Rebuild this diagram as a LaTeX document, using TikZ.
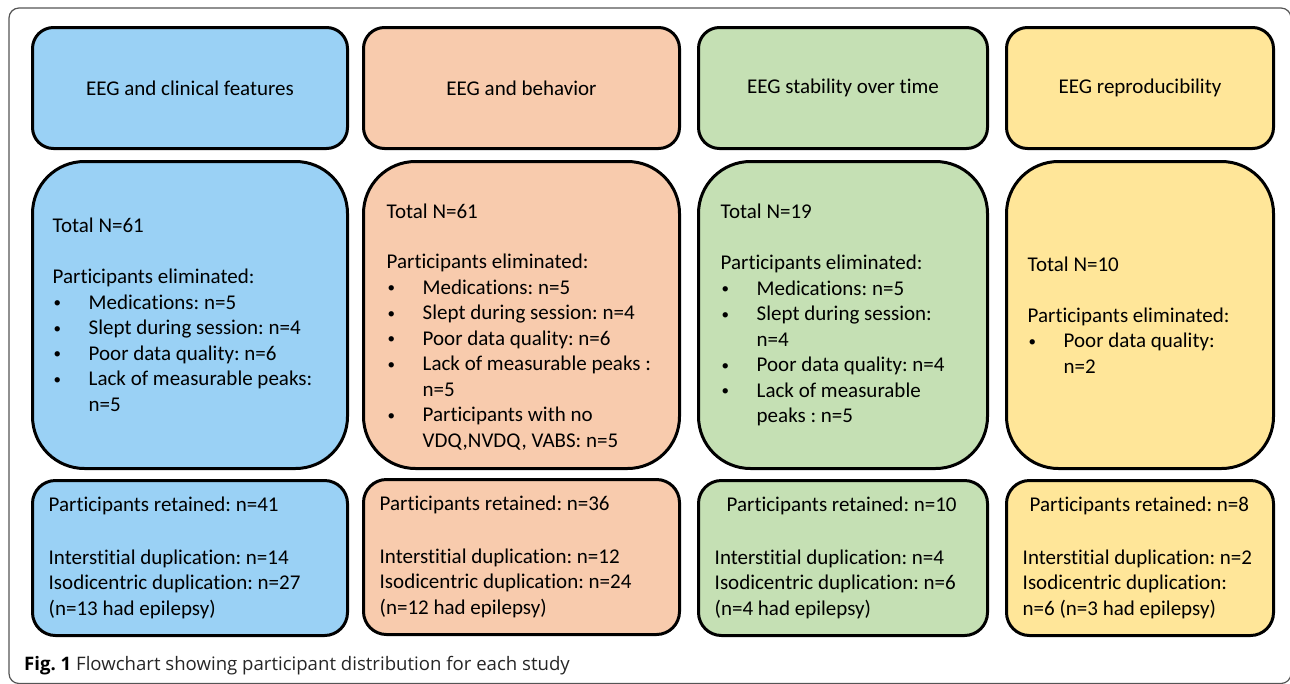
\documentclass[tikz,border=0pt]{standalone}
\usepackage{fontspec}
\setmainfont{Carlito}[Ligatures=NoCommon]
\newfontfamily\captfont{Open Sans}
\frenchspacing
\usetikzlibrary{positioning}
\definecolor{boxblue}{HTML}{9AD1F5}
\definecolor{boxpeach}{HTML}{F8CBAD}
\definecolor{boxgreen}{HTML}{C5E0B4}
\definecolor{boxgold}{HTML}{FFE699}
\definecolor{framegray}{HTML}{555555}
\newcommand{\itm}[1]{\makebox[36pt][l]{\hspace*{1pt}\raisebox{1.5pt}{\fontsize{15}{15}\selectfont\textbullet}}#1}
\newcommand{\cnt}[1]{\hspace*{36pt}#1}

\begin{document}
\begin{tikzpicture}[x=1pt, y=-1pt,
    box/.style={draw, line width=3pt, inner sep=0pt, font=\fontsize{21}{25.5}\selectfont},
    head/.style={box, rounded corners=21pt, minimum height=121pt},
    mid/.style={box, rounded corners=52pt, minimum height=307pt},
    foot/.style={box, rounded corners=23pt, minimum height=155pt},
    txt/.style={align=left, inner sep=0pt, font=\fontsize{21}{25.5}\selectfont}]

    \useasboundingbox (0,0) rectangle (1290,683);
    \draw[framegray, line width=1.2pt, rounded corners=10pt] (9,8) rectangle (1291,683.5);

    \node[head, fill=boxblue,  minimum width=315pt] (head1) at (190,88)   {EEG and clinical features};
    \node[head, fill=boxpeach, minimum width=316pt] (head2) at (521.5,88) {EEG and behavior};
    \node[head, fill=boxgreen, minimum width=289pt] (head3) at (843,88)   {EEG stability over time};
    \node[head, fill=boxgold,  minimum width=267pt] (head4) at (1140,88)  {EEG reproducibility};

    \node[mid, fill=boxblue,  minimum width=315pt] (mid1) at (190,315)   {};
    \node[mid, fill=boxpeach, minimum width=316pt] (mid2) at (521.5,315) {};
    \node[mid, fill=boxgreen, minimum width=289pt] (mid3) at (843,315)   {};
    \node[mid, fill=boxgold,  minimum width=267pt] (mid4) at (1140,315)  {};

    \node[foot, fill=boxblue,  minimum width=315pt] (foot1) at (190,558)   {};
    \node[foot, fill=boxpeach, minimum width=316pt] (foot2) at (521.5,557) {};
    \node[foot, fill=boxgreen, minimum width=289pt] (foot3) at (843,558)   {};
    \node[foot, fill=boxgold,  minimum width=267pt] (foot4) at (1140,558)  {};

    \node[txt, right=21.5pt of mid1.west] (elim1) {Total N=61\\[25.5pt]
        Participants eliminated:\\
        \itm{Medications: n=5}\\
        \itm{Slept during session: n=4}\\
        \itm{Poor data quality: n=6}\\
        \itm{Lack of measurable peaks:}\\
        \cnt{n=5}};
    \node[txt, right=24.5pt of mid2.west, yshift=-12pt] (elim2) {Total N=61\\[25pt]
        Participants eliminated:\\
        \itm{Medications: n=5}\\
        \itm{Slept during session: n=4}\\
        \itm{Poor data quality: n=6}\\
        \itm{Lack of measurable peaks :}\\
        \cnt{n=5}\\
        \itm{Participants with no}\\
        \cnt{VDQ,NVDQ, VABS: n=5}};
    \node[txt, right=23.5pt of mid3.west] (elim3) {Total N=19\\[25.5pt]
        Participants eliminated:\\
        \itm{Medications: n=5}\\
        \itm{Slept during session:}\\
        \cnt{n=4}\\
        \itm{Poor data quality: n=4}\\
        \itm{Lack of measurable}\\
        \cnt{peaks : n=5}};
    \node[txt, right=22.5pt of mid4.west] (elim4) {Total N=10\\[25pt]
        Participants eliminated:\\
        \itm{Poor data quality:}\\
        \cnt{n=2}};

    \node[txt, right=17.5pt of foot1.west] (kept1) {Participants retained: n=41\\[27pt]
        Interstitial duplication: n=14\\
        Isodicentric duplication: n=27\\
        (n=13 had epilepsy)};
    \node[txt, right=17.5pt of foot2.west] (kept2) {Participants retained: n=36\\[27pt]
        Interstitial duplication: n=12\\
        Isodicentric duplication: n=24\\
        (n=12 had epilepsy)};
    \node[txt, right=17.5pt of foot3.west] (kept3) {\hspace*{12pt}Participants retained: n=10\\[27pt]
        Interstitial duplication: n=4\\
        Isodicentric duplication: n=6\\
        (n=4 had epilepsy)};
    \node[txt, right=17.5pt of foot4.west] (kept4) {\hspace*{7pt}Participants retained: n=8\\[27pt]
        Interstitial duplication: n=2\\
        Isodicentric duplication:\\
        n=6 (n=3 had epilepsy)};

    \node[anchor=base west, inner sep=0pt, font=\captfont\fontsize{18.6}{22}\selectfont, text=black!85] (capt) at (24,670)
        {\textbf{\color{black}Fig. 1} Flowchart showing participant distribution for each study};

\end{tikzpicture}
\end{document}
